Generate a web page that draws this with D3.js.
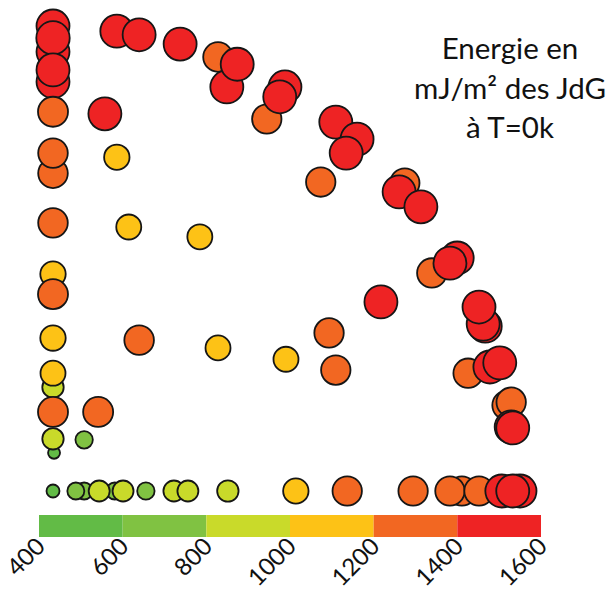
<!DOCTYPE html>
<html>
<head>
<meta charset="utf-8">
<script src="https://cdn.jsdelivr.net/npm/d3@7"></script>
<style>
  body { margin: 0; background: #fff; }
  svg { display: block; }
</style>
</head>
<body>
<div id="chart"><svg width="614" height="592"></svg></div>
<script>
// grain boundaries: two angles (deg) and energy (mJ/m2), back to front
const ANGLE_X = [
  0, 0, 0, 0, 0, 0, 0, 0, 0, 0, 0, 0, 0, 0, 0, 0.2, 0,
  10.0, 12.3, 14.6, 28.3, 16.6, 31.8, 44.9, 53.2, 54.5, 63.2, 8.7, 6.0, 51.6, 41.2,
  12.3, 16.6, 24.5, 31.8, 33.5, 35.5, 44.7, 43.7, 54.5, 58.6, 56.5,
  67.8, 66.7, 70.9, 73.0, 77.9, 76.5, 83.3, 82.9, 82.1,
  80.0, 84.2, 86.1, 87.5, 88.3, 88.3, 88.6,
  0, 6.0, 4.4, 11.9, 8.9, 13.5, 17.9, 23.3, 26.0, 33.7, 46.8,
  56.7, 69.4, 78.8, 76.5, 82.1, 86.5, 90.0, 88.6
];
const ANGLE_Y = [
  90, 85.0, 79.2, 87.7, 81.5, 73.4, 61.5, 65.4, 51.9, 42.0, 38.1, 29.6, 20.1, 22.8, 15.3, 7.4, 10.1,
  73.0, 64.6, 51.1, 49.2, 29.2, 27.7, 25.5, 30.6, 23.4, 36.6, 15.3, 9.9, 59.8, 72.0,
  89.0, 88.3, 86.5, 84.0, 78.2, 82.6, 78.2, 76.3, 71.4, 68.1, 65.4,
  59.6, 57.9, 55.0, 42.2, 45.1, 44.1, 31.9, 32.3, 35.6,
  22.8, 24.0, 24.8, 16.6, 17.2, 12.4, 12.2,
  0, 0, 0, 0, 0, 0, 0, 0, 0, 0, 0,
  0, 0, 0, 0, 0, 0, 0, 0
];
const ENERGY = [
  1500, 1500, 1500, 1520, 1500, 1350, 1330, 1330, 1330, 1120, 1350, 1120, 920, 1100, 1350, 450, 920,
  1500, 1120, 1100, 1100, 1330, 1100, 1100, 1320, 1320, 1500, 1350, 720, 1320, 1320,
  1500, 1500, 1500, 1330, 1500, 1500, 1500, 1500, 1500, 1500, 1500,
  1320, 1500, 1500, 1320, 1500, 1500, 1500, 1500, 1500,
  1320, 1500, 1500, 1320, 1320, 1500, 1500,
  500, 700, 700, 700, 900, 900, 720, 900, 900, 920, 1120,
  1320, 1320, 1320, 1320, 1320, 1500, 1500, 1500
];

const BIN_EDGES = [400, 600, 800, 1000, 1200, 1400, 1600];
const BIN_COLORS = ['#62bb46', '#80c242', '#c9da2a', '#fdc216', '#f26722', '#ee2324'];
const TITLE = ['Energie en', 'mJ/m\u00b2 des JdG', '\u00e0 T=0k'];

const data = ENERGY.map((e, i) => ({ ax: ANGLE_X[i], ay: ANGLE_Y[i], energy: e }));

const SVG = d3.select('#chart svg');

const X_SCALE = d3.scaleLinear().domain([0, 90]).range([53, 520]);
const Y_SCALE = d3.scaleLinear().domain([0, 90]).range([491, 26]);
const R_SCALE = d3.scaleLinear().domain([400, 1600]).range([5.5, 17.5]);
const COLOR = d3.scaleThreshold().domain(BIN_EDGES.slice(1, -1)).range(BIN_COLORS);

SVG.append('g')
  .attr('id', 'points')
  .selectAll('circle')
  .data(data)
  .join('circle')
  .attr('cx', d => X_SCALE(d.ax))
  .attr('cy', d => Y_SCALE(d.ay))
  .attr('r', d => R_SCALE(d.energy))
  .style('fill', d => COLOR(d.energy))
  .style('stroke', '#161616')
  .style('stroke-width', 1.8);

// colour bar
const BAR_SCALE = d3.scaleLinear().domain([400, 1600]).range([39, 541]);
const BAR_Y = 515;
const BAR_H = 22;

SVG.append('g')
  .attr('id', 'colorBar')
  .selectAll('rect')
  .data(d3.pairs(BIN_EDGES))
  .join('rect')
  .attr('x', d => BAR_SCALE(d[0]))
  .attr('y', BAR_Y)
  .attr('width', d => BAR_SCALE(d[1]) - BAR_SCALE(d[0]))
  .attr('height', BAR_H)
  .style('fill', d => COLOR(d[0]));

const BAR_AXIS = d3.axisBottom(BAR_SCALE)
  .tickValues(BIN_EDGES)
  .tickFormat(d3.format('d'))
  .tickSize(0)
  .tickPadding(0);
const BAR_AXIS_G = SVG.append('g')
  .attr('id', 'barAxis')
  .attr('transform', `translate(0,${BAR_Y + BAR_H})`);
BAR_AXIS(BAR_AXIS_G);
BAR_AXIS_G.select('.domain').remove();
BAR_AXIS_G.selectAll('text')
  .attr('y', 0)
  .attr('dy', 0)
  .attr('transform', 'translate(7,11) rotate(-45)')
  .style('text-anchor', 'end')
  .style('font-family', 'Lato, sans-serif')
  .style('font-size', '24px')
  .style('fill', '#111');

// title
SVG.append('g')
  .attr('id', 'title')
  .selectAll('text')
  .data(TITLE)
  .join('text')
  .text(d => d)
  .attr('x', 510)
  .attr('y', (d, i) => 59 + i * 39.5)
  .style('text-anchor', 'middle')
  .style('font-family', 'Lato, sans-serif')
  .style('font-size', '29.5px')
  .style('fill', '#111');
</script>
</body>
</html>
